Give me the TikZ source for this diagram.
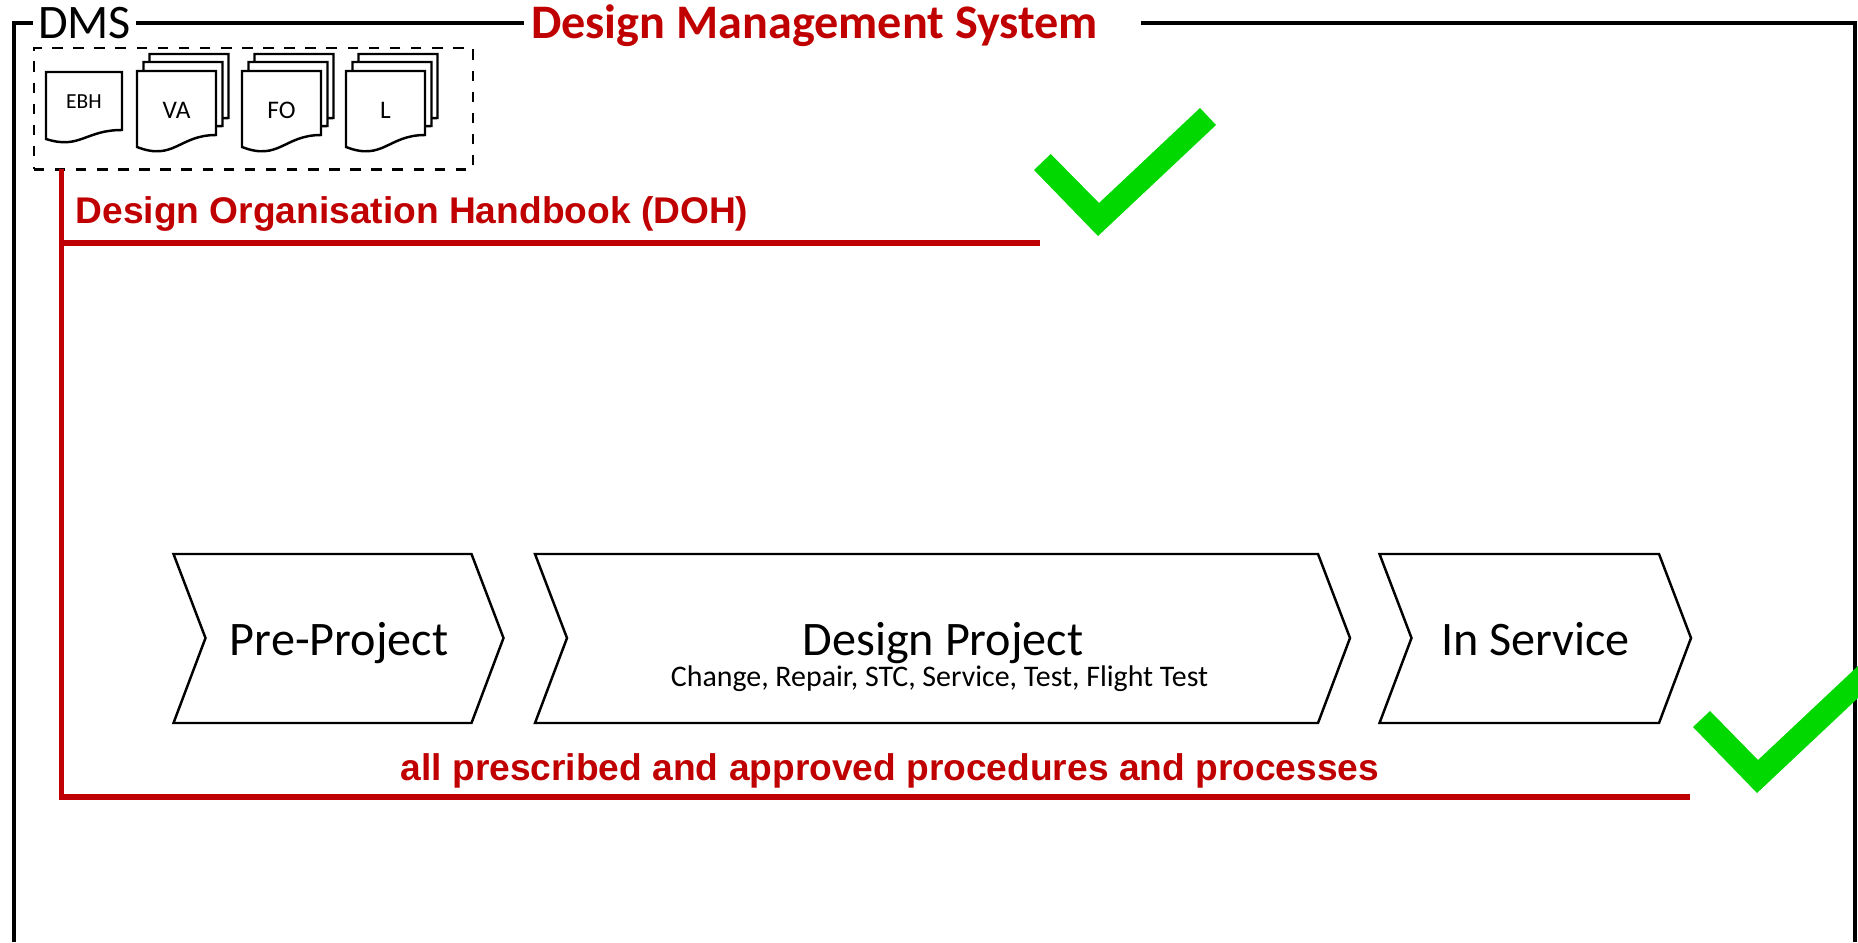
\documentclass[tikz,border=0pt]{standalone}
\usepackage{fontspec}
\setmainfont{Carlito}
\newfontfamily\arialfont{Liberation Sans}
\definecolor{dmsred}{HTML}{C00000}
\definecolor{dmsgreen}{HTML}{00D800}
\tikzset{
  frameline/.style={line width=1.1pt,black},
  redline/.style={line width=1.5pt,dmsred},
  chevronline/.style={line width=0.7pt,black,line join=miter},
  docline/.style={line width=0.7pt,black,fill=white},
  checkmark/.style={fill=dmsgreen,draw=none},
  basetext/.style={inner sep=0pt,anchor=base},
  bigtext/.style={basetext,font=\fontsize{13.7pt}{13.7pt}\selectfont},
  redhead/.style={basetext,text=dmsred,font=\fontsize{13.7pt}{13.7pt}\selectfont\bfseries},
  redsub/.style={basetext,text=dmsred,font=\arialfont\fontsize{10.56pt}{10.56pt}\selectfont\bfseries},
}
% one sheet: left top corner, width, height, drop of the wave
\newcommand{\sheet}[5]{\begin{scope}[shift={(#1,#2)}]
  \draw[docline] (0,0)--(#3,0)--(#3,#4)
    .. controls (#3-37,#4) and (#3-42,#4+#5*2.2) .. (0,#4+#5)--cycle;
\end{scope}}
% one phase: left, right tip
\newcommand{\phase}[2]{\draw[chevronline] (#1,554)--(#2-32,554)--(#2,638)--(#2-32,723)--(#1,723)--(#1+32,638)--cycle;}
\begin{document}
\begin{tikzpicture}[x=0.01cm,y=-0.01cm]
\useasboundingbox (0,0) rectangle (1858,942);
\clip (0,0) rectangle (1858,942);
% outer frame
\coordinate (frameA) at (33,23);
\coordinate (frameB) at (14,942);
\coordinate (frameC) at (136,23);
\coordinate (frameD) at (524,23);
\coordinate (frameE) at (1141,23);
\coordinate (frameF) at (1855,942);
\draw[frameline] (frameA)-|(frameB);
\draw[frameline] (frameC)--(frameD);
\draw[frameline] (frameE)-|(frameF);
\node[bigtext] (dms) at (84.5,38) {DMS};
\node[redhead] (title) at (814.5,38) {Design Management System};
% documents
\node[draw,dashed,line width=0.7pt,inner sep=0pt,anchor=north west,
  minimum width=4.39cm,minimum height=1.21cm] (box) at (32.5,47) {};
\sheet{46}{72}{76}{58}{9}
\node[basetext,font=\fontsize{6.1pt}{6.1pt}\selectfont] (ebh) at (84,108.5) {EBH};
\foreach \x/\name in {137/VA,242/FO,346/L} {
  \sheet{\x+12.5}{54}{79}{64}{12}
  \sheet{\x+6.5}{62}{79}{64}{12}
  \sheet{\x}{71}{79}{64}{12}
  \node[basetext,font=\fontsize{7.2pt}{7.2pt}\selectfont] (doc\name) at (\x+39.5,118) {\name};
}
% red lines
\coordinate (redtop) at (61.5,169);
\coordinate (redmid) at (61.5,243);
\coordinate (redmidend) at (1040,243);
\coordinate (redlowend) at (1690,797);
\draw[redline] (redtop)|-(redlowend);
\draw[redline] (redmid)--(redmidend);
\node[redsub,anchor=base west] (doh) at (75,223) {Design Organisation Handbook (DOH)};
\node[redsub] (proc) at (890,780) {all prescribed and approved procedures and processes};
% check marks
\draw[checkmark] (1034,170)--(1050.7,154)--(1099,203)--(1200,108)--(1216,125)--(1098,236)--cycle;
\draw[checkmark] (1693,727)--(1710,711)--(1758,760)--(1859,665)--(1875,682)--(1757,793)--cycle;
% phases
\phase{173.5}{503.5}
\node[bigtext] (pre) at (339,655) {Pre-Project};
\phase{535}{1350}
\node[bigtext] (design) at (943,655) {Design Project};
\node[basetext,font=\fontsize{8.5pt}{8.5pt}\selectfont] (designsub) at (939.5,686.5) {Change, Repair, STC, Service, Test, Flight Test};
\phase{1379.5}{1691}
\node[bigtext] (service) at (1535.5,655) {In Service};
\end{tikzpicture}
\end{document}
